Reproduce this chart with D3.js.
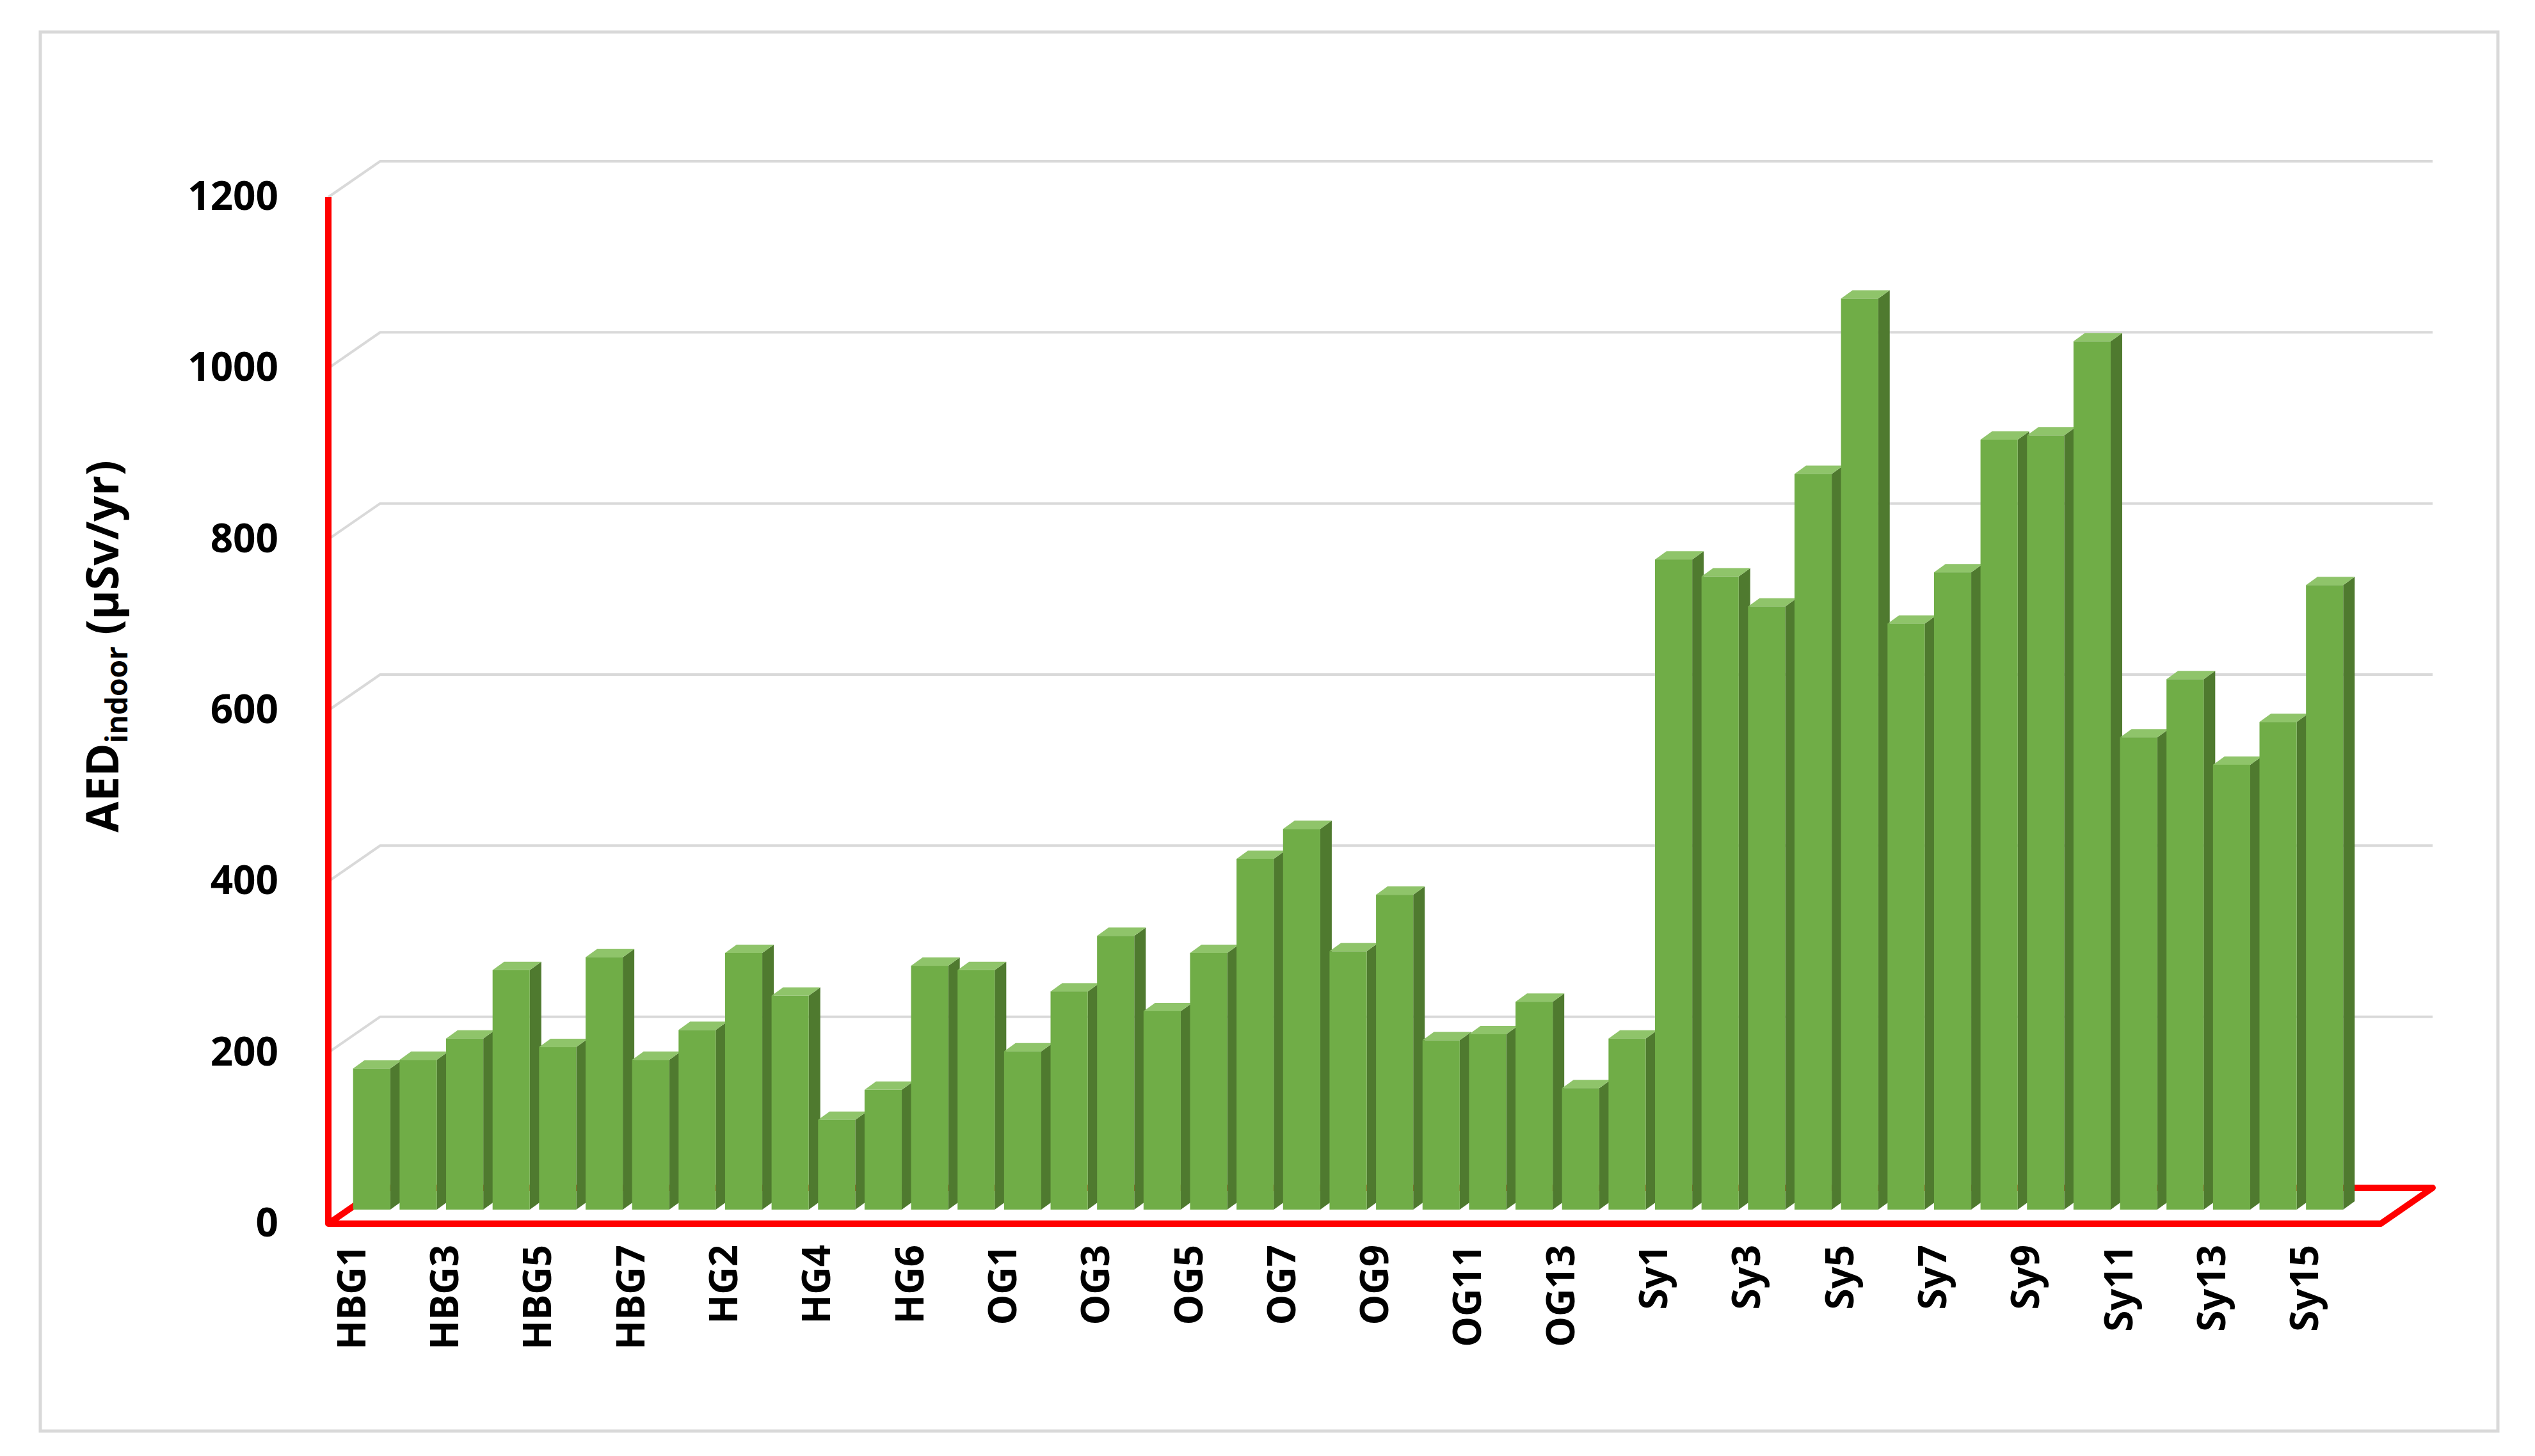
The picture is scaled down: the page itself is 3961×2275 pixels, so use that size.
<!DOCTYPE html>
<html><head><meta charset="utf-8">
<script src="https://cdn.jsdelivr.net/npm/d3@7"></script>
<style>body{margin:0;background:#fff}</style></head>
<body><svg id="c" width="3961" height="2275"></svg>
<script>
const categories = [
 "HBG1","HBG2","HBG3","HBG4","HBG5","HBG6","HBG7",
 "HG1","HG2","HG3","HG4","HG5","HG6","HG7",
 "OG1","OG2","OG3","OG4","OG5","OG6","OG7","OG8","OG9","OG10","OG11","OG12","OG13","OG14",
 "Sy1","Sy2","Sy3","Sy4","Sy5","Sy6","Sy7","Sy8","Sy9","Sy10","Sy11","Sy12","Sy13","Sy14","Sy15"];
const values = [165,175,200,280,190,295,175,
 210,300,250,105,140,285,280,
 185,255,320,232,300,410,445,302,368,198,205,243,142,200,
 760,740,705,860,1065,685,745,900,905,1015,552,620,520,570,730];
const yTicks = [0,200,400,600,800,1000,1200];

const svg = d3.select("#c");
const font = "'Open Sans','Liberation Sans',sans-serif";
svg.append("rect").attr("x",63).attr("y",50).attr("width",3840).attr("height",2186)
  .attr("fill","#fff").attr("stroke","#d9d9d9").attr("stroke-width",5);

const x0 = 513, x1 = 3640, DX = 81, DY = -56;
const y = d3.scaleLinear().domain([0,1200]).range([1912,308]);
const x = d3.scaleBand().domain(categories).range([x0, x1]).paddingInner(0.2).paddingOuter(0.12);

// gridlines on back wall with diagonal on side
const g = svg.append("g");
yTicks.forEach(t=>{
  if(t===0) return;
  g.append("path").attr("d",`M${x0},${y(t)}L${x0+DX},${y(t)+DY}L${x1+DX+80},${y(t)+DY}`)
   .attr("fill","none").attr("stroke","#d9d9d9").attr("stroke-width",4);
});
// tick labels
yTicks.forEach(t=>{
  svg.append("text").attr("x",435).attr("y",y(t)+20).attr("text-anchor","end")
   .attr("font-family",font).attr("font-weight","bold").attr("font-size",62).attr("fill","#000").text(t);
});
// floor
svg.append("path").attr("d",`M${x0},${y(0)}L${x0+DX},${y(0)+DY}L${x1+DX+80},${y(0)+DY}L${x1+80},${y(0)}Z`)
  .attr("fill","none").attr("stroke","#ff0000").attr("stroke-width",10).attr("stroke-linejoin","round");
// axis
svg.append("line").attr("x1",x0).attr("x2",x0).attr("y1",y(1200)).attr("y2",y(0))
  .attr("stroke","#ff0000").attr("stroke-width",10);

// bars
const bx = 30, by = -22, sd = 18, sdy = -13, bw = x.bandwidth();
const bars = svg.append("g");
categories.forEach((c,i)=>{
  const v = values[i];
  const L = x(c)+bx, R = L+bw, T = y(v)+by, B = y(0)+by;
  bars.append("path").attr("d",`M${R},${B}L${R+sd},${B+sdy}L${R+sd},${T+sdy}L${R},${T}Z`).attr("fill","#4f7a2f");
  bars.append("path").attr("d",`M${L},${T}L${L+sd},${T+sdy}L${R+sd},${T+sdy}L${R},${T}Z`).attr("fill","#8fc46a");
  bars.append("rect").attr("x",L).attr("y",T).attr("width",bw).attr("height",B-T).attr("fill","#70ad47");
});

// x labels
categories.forEach((c,i)=>{
  if(i%2) return;
  const cx = x(c)+bw/2;
  svg.append("text").attr("transform",`translate(${cx+20},${1945}) rotate(-90)`)
   .attr("text-anchor","end").attr("font-family",font).attr("font-weight","bold")
   .attr("font-size",60).attr("fill","#000").text(c);
});

// y title
const tt = svg.append("text").attr("transform","translate(185,1010) rotate(-90)")
  .attr("text-anchor","middle").attr("font-family",font).attr("font-weight","bold")
  .attr("font-size",70).attr("fill","#000");
tt.append("tspan").text("AED");
tt.append("tspan").attr("font-size",46).attr("dy",14).text("indoor");
tt.append("tspan").attr("dy",-14).text(" (µSv/yr)");
</script></body></html>
